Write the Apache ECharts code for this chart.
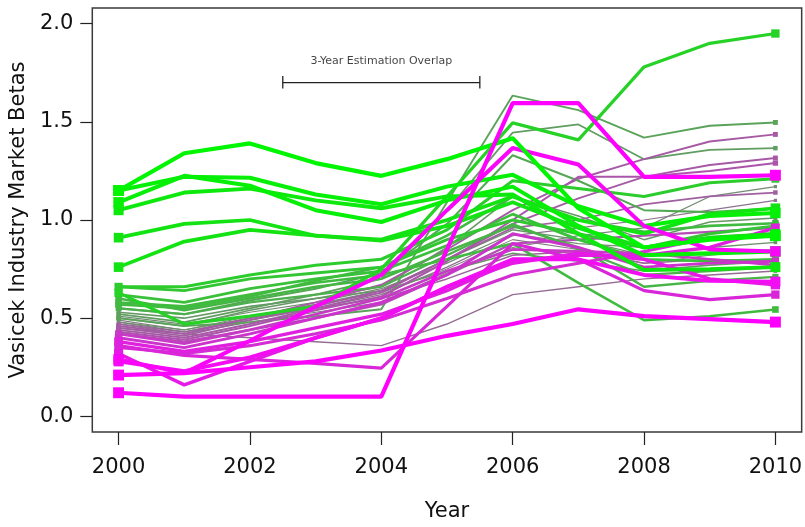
<!DOCTYPE html>
<html><head><meta charset="utf-8">
<script src="https://cdn.jsdelivr.net/npm/echarts@6/dist/echarts.min.js"></script>
<style>html,body{margin:0;padding:0;background:#fff}#c{width:805px;height:527px}</style>
</head><body><div id="c"></div>
<script>
// ---- data ----
const years = [2000, 2001, 2002, 2003, 2004, 2005, 2006, 2007, 2008, 2009, 2010];
const xTicks = [2000, 2002, 2004, 2006, 2008, 2010];
const yTicks = [0, 0.5, 1.0, 1.5, 2.0];
const overlapLabel = '3-Year Estimation Overlap';
const overlapYears = [2002.5, 2005.5];
const overlapBeta = 1.70;
const overlapCap = [1.67, 1.733];
const overlapLabelPoint = [2004, 1.81];

// industry beta paths (2000..2010)
const g1  = [1.15, 1.34, 1.39, 1.29, 1.225, 1.31, 1.417, 1.06, 0.86, 0.90, 0.92];
const g2  = [1.15, 1.22, 1.215, 1.13, 1.08, 1.17, 1.23, 1.07, 0.97, 1.02, 1.036];
const g3  = [1.09, 1.225, 1.175, 1.05, 0.99, 1.10, 1.17, 0.97, 0.82, 0.83, 0.84];
const g4  = [1.05, 1.14, 1.16, 1.10, 1.06, 1.12, 1.13, 0.93, 0.745, 0.75, 0.76];
const g5  = [0.91, 0.98, 1.00, 0.92, 0.90, 1.00, 1.12, 1.00, 0.93, 1.03, 1.06];
const g6  = [0.76, 0.89, 0.95, 0.92, 0.895, 0.97, 1.09, 0.96, 0.86, 0.91, 0.93];
const g7  = [0.63, 0.47, 0.51, 0.56, 0.75, 1.12, 1.495, 1.408, 1.78, 1.90, 1.95];
const g8  = [0.66, 0.66, 0.72, 0.77, 0.80, 0.95, 1.20, 1.16, 1.12, 1.19, 1.21];
const g9  = [0.66, 0.64, 0.70, 0.73, 0.76, 0.90, 1.00, 0.93, 0.86, 0.93, 0.97];
const g10 = [0.62, 0.58, 0.65, 0.70, 0.74, 0.87, 1.03, 0.90, 0.80, 0.79, 0.80];
const g11 = [0.58, 0.56, 0.62, 0.68, 0.72, 0.80, 0.88, 0.68, 0.49, 0.51, 0.544];
const g12 = [0.60, 0.54, 0.60, 0.66, 0.70, 0.84, 0.97, 0.86, 0.66, 0.69, 0.71];
const g13 = [0.57, 0.55, 0.61, 0.69, 0.76, 0.92, 1.12, 1.00, 0.94, 0.97, 0.983];
const g14 = [0.55, 0.52, 0.58, 0.62, 0.66, 0.82, 0.98, 0.85, 0.72, 0.74, 0.76];
const n1  = [0.50, 0.46, 0.48, 0.51, 0.545, 1.09, 1.634, 1.56, 1.42, 1.48, 1.497];
const n2  = [0.52, 0.48, 0.55, 0.62, 0.70, 1.05, 1.445, 1.487, 1.31, 1.357, 1.366];
const n3  = [0.50, 0.46, 0.54, 0.60, 0.66, 0.86, 1.12, 1.02, 0.90, 0.99, 1.01];
const n4  = [0.48, 0.44, 0.50, 0.57, 0.64, 0.80, 0.95, 0.90, 0.82, 0.86, 0.886];
const n5  = [0.47, 0.42, 0.48, 0.53, 0.58, 0.73, 0.86, 0.92, 0.96, 1.12, 1.17];
const n6  = [0.55, 0.52, 0.59, 0.65, 0.73, 0.98, 1.33, 1.20, 1.05, 1.04, 1.06];
const n7  = [0.51, 0.47, 0.53, 0.58, 0.65, 0.78, 0.93, 0.88, 0.86, 0.90, 0.92];
const n8  = [0.49, 0.44, 0.51, 0.57, 0.63, 0.75, 0.90, 0.85, 0.78, 0.82, 0.85];
const n9  = [0.53, 0.50, 0.56, 0.60, 0.64, 0.74, 0.83, 0.79, 0.74, 0.77, 0.79];
const p1  = [0.46, 0.42, 0.50, 0.58, 0.67, 0.85, 1.05, 1.21, 1.31, 1.40, 1.436];
const p2  = [0.44, 0.40, 0.47, 0.55, 0.63, 0.80, 0.98, 1.11, 1.22, 1.28, 1.316];
const p3  = [0.43, 0.39, 0.46, 0.54, 0.61, 0.79, 1.00, 1.22, 1.22, 1.25, 1.29];
const p4  = [0.45, 0.41, 0.49, 0.56, 0.64, 0.80, 0.96, 1.00, 1.08, 1.12, 1.14];
const p5  = [0.42, 0.38, 0.44, 0.50, 0.57, 0.72, 0.88, 0.90, 0.92, 0.94, 0.96];
const p6  = [0.47, 0.43, 0.50, 0.55, 0.60, 0.70, 0.82, 0.84, 0.78, 0.80, 0.79];
const p7  = [0.45, 0.42, 0.40, 0.38, 0.36, 0.47, 0.62, 0.66, 0.70, 0.72, 0.74];
const p8  = [0.48, 0.43, 0.49, 0.55, 0.62, 0.76, 0.92, 0.96, 1.00, 1.05, 1.10];
const m1  = [0.12, 0.10, 0.10, 0.10, 0.10, 0.85, 1.595, 1.595, 1.22, 1.22, 1.228];
const m2  = [0.21, 0.22, 0.25, 0.28, 0.335, 0.41, 0.47, 0.545, 0.51, 0.495, 0.48];
const m3  = [0.29, 0.22, 0.385, 0.56, 0.72, 1.05, 1.367, 1.283, 0.97, 0.85, 0.84];
const m4  = [0.28, 0.23, 0.30, 0.40, 0.50, 0.66, 0.80, 0.80, 0.72, 0.69, 0.686];
const m5  = [0.32, 0.16, 0.28, 0.40, 0.50, 0.66, 0.78, 0.83, 0.80, 0.70, 0.67];
const m6  = [0.36, 0.31, 0.29, 0.27, 0.245, 0.56, 0.88, 0.80, 0.64, 0.594, 0.62];
const m7  = [0.38, 0.33, 0.38, 0.45, 0.52, 0.64, 0.79, 0.82, 0.82, 0.86, 0.96];
const m8  = [0.40, 0.35, 0.42, 0.50, 0.58, 0.72, 0.93, 0.86, 0.76, 0.78, 0.79];
const m9  = [0.35, 0.32, 0.36, 0.42, 0.49, 0.60, 0.72, 0.78, 0.84, 0.91, 0.93];
const m10 = [0.42, 0.37, 0.44, 0.52, 0.60, 0.74, 0.85, 0.84, 0.83, 0.80, 0.77];

const betaPaths = [g1,g2,g3,g4,g5,g6,g7,g8,g9,g10,g11,g12,g13,g14,
                   n1,n2,n3,n4,n5,n6,n7,n8,n9,
                   p1,p2,p3,p4,p5,p6,p7,p8,
                   m1,m2,m3,m4,m5,m6,m7,m8,m9,m10];
// tilt: +1 = green extreme, -1 = magenta extreme
const tilts = [1.0,0.95,0.95,0.9,0.85,0.85,0.7,0.65,0.6,0.55,0.5,0.45,0.5,0.4,
               0.3,0.25,0.2,0.15,0.1,0.35,0.1,-0.05,0.2,
               -0.3,-0.3,-0.35,-0.25,-0.4,-0.2,-0.15,-0.1,
               -1.0,-1.0,-0.95,-0.9,-0.8,-0.7,-0.75,-0.6,-0.65,-0.55];

// ---- styling ----
const FONT = 'DejaVu Sans';
function tiltColor(t) {
  const g = [128,128,128];
  const end = t >= 0 ? [0,245,0] : [255,0,255];
  const a = Math.abs(t);
  const c = g.map((v,i)=>Math.round(v + (end[i]-v)*a));
  return 'rgb(' + c.join(',') + ')';
}
const order = tilts.map((t,i)=>i).sort((a,b)=>Math.abs(tilts[a])-Math.abs(tilts[b]));
const last = years.length - 1;
const lineSeries = order.map(i => {
  const t = tilts[i];
  const w = 0.9 + 3.3*Math.abs(t);
  const sz = 2.6*w;
  const col = tiltColor(t);
  return {
    type:'line', silent:true, animation:false,
    data: years.map((y,k)=>[y, betaPaths[i][k]]),
    symbol:'rect', showSymbol:true, showAllSymbol:true,
    symbolSize:(v,p)=> (p.dataIndex===0 || p.dataIndex===last) ? sz : 0,
    lineStyle:{color:col, width:w},
    itemStyle:{color:col},
    z:2
  };
});

const bracket = {
  type:'line', silent:true, animation:false, symbol:'none',
  data:[[overlapYears[0],overlapCap[1]],[overlapYears[0],overlapCap[0]],[overlapYears[0],overlapBeta],
        [overlapYears[1],overlapBeta],[overlapYears[1],overlapCap[1]],[overlapYears[1],overlapCap[0]]],
  lineStyle:{color:'#222', width:1.3}, z:3
};
const bracketText = {
  type:'scatter', silent:true, animation:false, symbolSize:0,
  data:[overlapLabelPoint],
  label:{show:true, position:'inside', formatter:overlapLabel, fontFamily:FONT, fontSize:11, color:'#111'},
  z:3
};

const chart = echarts.init(document.getElementById('c'), null, {renderer:'canvas'});
chart.setOption({
  animation:false,
  backgroundColor:'#fff',
  grid:{left:89, right:2, top:8, bottom:87, show:true, borderColor:'#3a3a3a', borderWidth:1.5, backgroundColor:'transparent'},
  xAxis:{
    type:'value', min:1999.6, max:2010.4,
    axisLine:{show:false, onZero:false}, splitLine:{show:false},
    axisTick:{show:true, length:13, customValues:xTicks, lineStyle:{color:'#222', width:1.2}},
    axisLabel:{customValues:xTicks, fontFamily:FONT, fontSize:21, color:'#111', margin:25, formatter:v=>String(v)},
    name:'Year', nameLocation:'middle', nameGap:69,
    nameTextStyle:{fontFamily:FONT, fontSize:21, color:'#111'}
  },
  yAxis:{
    type:'value', min:-0.08, max:2.08,
    axisLine:{show:false, onZero:false}, splitLine:{show:false},
    axisTick:{show:true, length:12, customValues:yTicks, lineStyle:{color:'#222', width:1.2}},
    axisLabel:{customValues:yTicks, fontFamily:FONT, fontSize:21, color:'#111', margin:19, formatter:v=>v.toFixed(1)},
    name:'Vasicek Industry Market Betas', nameLocation:'middle', nameGap:61,
    nameTextStyle:{fontFamily:FONT, fontSize:21, color:'#111'}
  },
  series: lineSeries.concat([bracket, bracketText])
});
</script></body></html>
